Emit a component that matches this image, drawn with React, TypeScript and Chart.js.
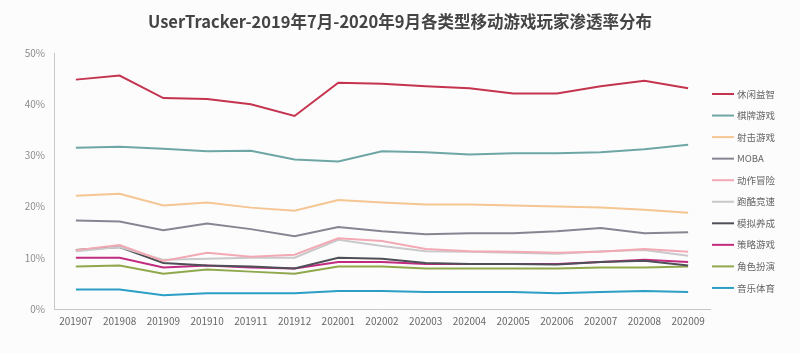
import React, { useEffect, useRef } from "react";
import { Chart, registerables } from "chart.js";

Chart.register(...registerables);

const titleText = "UserTracker-2019年7月-2020年9月各类型移动游戏玩家渗透率分布";

const categories = ["201907","201908","201909","201910","201911","201912","202001","202002","202003","202004","202005","202006","202007","202008","202009"];

const seriesNames = ["休闲益智","棋牌游戏","射击游戏","MOBA","动作冒险","跑酷竞速","模拟养成","策略游戏","角色扮演","音乐体育"];

const xiuxian = [44.8,45.6,41.2,41.0,40.0,37.7,44.2,44.0,43.5,43.1,42.1,42.1,43.5,44.6,43.1];
const qipai = [31.5,31.7,31.3,30.8,30.9,29.2,28.8,30.8,30.6,30.2,30.4,30.4,30.6,31.2,32.1];
const sheji = [22.1,22.5,20.2,20.8,19.8,19.2,21.3,20.8,20.4,20.4,20.2,20.0,19.8,19.4,18.8];
const moba = [17.3,17.1,15.4,16.7,15.6,14.2,16.0,15.2,14.6,14.8,14.8,15.2,15.8,14.8,15.0];
const dongzuo = [11.5,12.5,9.4,11.0,10.2,10.6,13.8,13.3,11.7,11.3,11.2,11.0,11.2,11.7,11.2];
const paoku = [11.3,12.1,9.6,9.8,10.0,10.0,13.5,12.3,11.3,11.2,11.0,10.8,11.3,11.5,10.4];
const moni = [11.5,12.1,9.0,8.5,8.3,7.9,10.0,9.8,9.0,8.8,8.8,8.7,9.2,9.4,8.5];
const celue = [10.0,10.0,8.1,8.5,8.1,7.9,9.2,9.2,8.8,8.8,8.8,8.8,9.2,9.6,9.2];
const juese = [8.3,8.5,6.9,7.7,7.3,6.9,8.3,8.3,7.9,7.9,7.9,7.9,8.1,8.1,8.3];
const yinyue = [3.8,3.8,2.7,3.1,3.1,3.1,3.5,3.5,3.3,3.3,3.3,3.1,3.3,3.5,3.3];

const yTicks = [0, 10, 20, 30, 40, 50];

const seriesValues = [xiuxian, qipai, sheji, moba, dongzuo, paoku, moni, celue, juese, yinyue];
const seriesColors = ["#c5344e","#6ea6a6","#f5c592","#868692","#f2a9b4","#c9c9cb","#4f4f58","#c22b80","#8fa84b","#2b9fc4"];

const FONT = "'Noto Sans CJK SC', 'Noto Sans', sans-serif";

const decorations = {
  id: "decorations",
  afterDraw(chart: any) {
    const ctx = chart.ctx;
    const area = chart.chartArea;
    ctx.save();
    // title centred over the whole canvas
    ctx.fillStyle = "#444444";
    ctx.font = `bold 16.5px ${FONT}`;
    ctx.textAlign = "center";
    ctx.textBaseline = "middle";
    ctx.fillText(titleText, chart.width / 2, 22);
    // legend on the right
    const x0 = area.right + 2;
    const y0 = 94;
    const step = 21.55;
    chart.data.datasets.forEach((ds: any, i: number) => {
      const y = y0 + i * step;
      ctx.strokeStyle = ds.borderColor;
      ctx.lineWidth = 2;
      ctx.beginPath();
      ctx.moveTo(x0, y);
      ctx.lineTo(x0 + 22, y);
      ctx.stroke();
      ctx.fillStyle = "#666666";
      ctx.font = `9.5px ${FONT}`;
      ctx.textBaseline = "middle";
      ctx.textAlign = "left";
      ctx.fillText(ds.label, x0 + 25, y);
    });
    ctx.restore();
  },
};

export default function App() {
  const ref = useRef<HTMLCanvasElement | null>(null);
  useEffect(() => {
    if (!ref.current) return;
    const chart = new Chart(ref.current, {
      type: "line",
      data: {
        labels: categories,
        datasets: seriesNames.map((name, i) => ({
          label: name,
          data: seriesValues[i],
          borderColor: seriesColors[i],
          backgroundColor: seriesColors[i],
          borderWidth: 2,
          pointRadius: 0,
          tension: 0,
          fill: false,
        })),
      },
      options: {
        animation: false,
        responsive: false,
        maintainAspectRatio: false,
        layout: { padding: { left: 0, right: 90, top: 53, bottom: 20 } },
        plugins: {
          title: { display: false },
          legend: { display: false },
          tooltip: { enabled: false },
        },
        scales: {
          x: {
            offset: true,
            grid: { display: false, drawTicks: false },
            border: { display: true, color: "#c8c8c8" },
            ticks: { color: "#666666", font: { family: FONT, size: 10 }, padding: 6, maxRotation: 0, autoSkip: false },
          },
          y: {
            min: 0,
            max: 50,
            afterBuildTicks: (axis: any) => {
              axis.ticks = yTicks.map((v) => ({ value: v }));
            },
            afterFit: (axis: any) => {
              axis.width = 54;
            },
            grid: { display: false, drawTicks: false },
            border: { display: true, color: "#c8c8c8" },
            ticks: {
              color: "#8c8c8c",
              font: { family: FONT, size: 10 },
              padding: 9,
              callback: (v: any) => v + "%",
            },
          },
        },
      },
      plugins: [decorations],
    });
    return () => chart.destroy();
  }, []);
  return (
    <div style={{ position: "fixed", left: 0, top: 0, width: 800, height: 353, background: "#fcfcfd" }}>
      <canvas ref={ref} width={800} height={353} style={{ width: 800, height: 353 }} />
    </div>
  );
}
